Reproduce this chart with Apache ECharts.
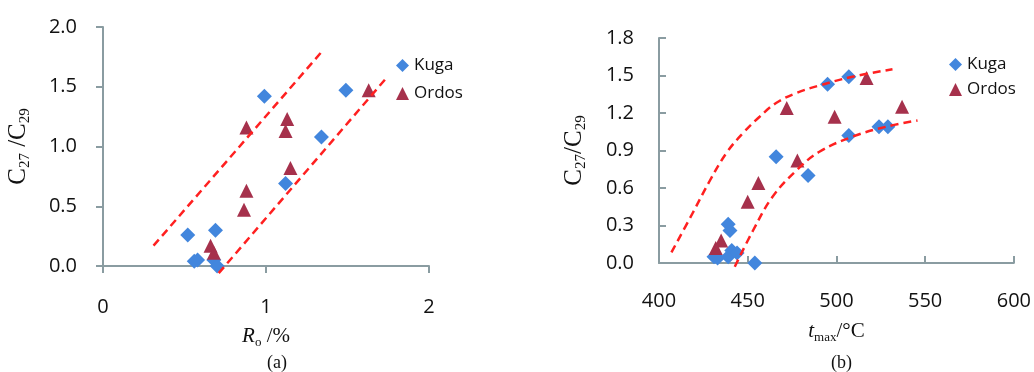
<!DOCTYPE html>
<html>
<head>
<meta charset="utf-8">
<script src="https://cdn.jsdelivr.net/npm/echarts@6/dist/echarts.min.js"></script>
<style>
  html, body { margin: 0; padding: 0; background: #fff; }
  #chart { width: 1034px; height: 372px; }
</style>
</head>
<body>
<div id="chart"></div>
<script>
  // (a) C27/C29 vs Ro
  const kugaRo = [[0.52, 0.26], [0.56, 0.04], [0.58, 0.05], [0.69, 0.30], [0.68, 0.05], [0.70, 0.0],
    [0.99, 1.42], [1.12, 0.69], [1.34, 1.08], [1.49, 1.47]]
  const ordosRo = [[0.66, 0.17], [0.68, 0.11], [0.865, 0.47], [0.88, 0.63], [0.88, 1.16],
    [1.12, 1.13], [1.13, 1.23], [1.15, 0.82], [1.63, 1.47]]
  const upperLineRo = [[0.31, 0.17], [1.34, 1.79]]
  const lowerLineRo = [[0.71, -0.06], [1.73, 1.56]]

  // (b) C27/C29 vs tmax
  const kugaT = [[431, 0.05], [433, 0.04], [439, 0.31], [440, 0.26], [439, 0.05], [441, 0.10], [444, 0.08],
    [454, 0.0], [466, 0.85], [484, 0.70], [495, 1.43], [507, 1.49], [507, 1.02], [524, 1.09], [529, 1.09]]
  const ordosT = [[432, 0.12], [435, 0.18], [450, 0.49], [456, 0.64], [472, 1.24], [478, 0.82],
    [499, 1.17], [517, 1.48], [537, 1.25]]
  const upperCurveT = [[407, 0.085], [419, 0.40], [428.7, 0.66], [438, 0.88], [447.4, 1.04], [456.7, 1.17],
    [466, 1.28], [477.4, 1.36], [490.4, 1.42], [509, 1.49], [531.6, 1.55]]
  const lowerCurveT = [[442.7, -0.03], [453, 0.26], [464, 0.53], [477.4, 0.74], [490.4, 0.89], [509, 1.01],
    [528, 1.09], [545.7, 1.14]]

  const seriesNames = ['Kuga', 'Ordos']
  const kugaColor = '#4286dd'
  const ordosColor = '#a6314c'
  const trendColor = '#ff2020'
  const axisColor = '#8a9ca1'
  const tickFont = 'Open Sans'
  const nameFont = 'Liberation Serif'

  const chart = echarts.init(document.getElementById('chart'))

  const nameRich = {
    b: { fontFamily: nameFont, fontSize: 21, color: '#111' },
    i: { fontFamily: nameFont, fontSize: 21, fontStyle: 'italic', color: '#111' },
    sub: { fontFamily: nameFont, fontSize: 13, color: '#111', padding: [12, 0, 0, 0] }
  }
  const yNameRich = {
    b: { fontFamily: nameFont, fontSize: 25, color: '#111' },
    sub: { fontFamily: nameFont, fontSize: 15, color: '#111', padding: [14, 0, 0, 0] }
  }

  function axisBase(inside) {
    return {
      axisLine: { show: true, onZero: false, lineStyle: { color: axisColor, width: 2 } },
      axisTick: { show: true, inside: inside, length: 7, lineStyle: { color: axisColor, width: 2 } },
      splitLine: { show: false },
      nameTextStyle: { rich: nameRich }
    }
  }

  function scatter(name, data, symbol, color, idx) {
    return {
      name: name, type: 'scatter', xAxisIndex: idx, yAxisIndex: idx,
      symbol: symbol, symbolSize: symbol === 'diamond' ? 15 : 14,
      itemStyle: { color: color, opacity: 1 }, data: data, z: 3
    }
  }

  function trend(data, idx, smooth) {
    return {
      type: 'line', xAxisIndex: idx, yAxisIndex: idx, data: data, smooth: smooth,
      symbol: 'none', clip: false, silent: true, z: 4,
      lineStyle: { color: trendColor, width: 2.5, type: [8, 5] }
    }
  }

  chart.setOption({
    animation: false,
    title: [
      { text: '(a)', left: 262, top: 349, textStyle: { fontFamily: nameFont, fontSize: 18, fontWeight: 'normal', color: '#111' } },
      { text: '(b)', left: 826, top: 349, textStyle: { fontFamily: nameFont, fontSize: 18, fontWeight: 'normal', color: '#111' } }
    ],
    legend: [
      {
        data: seriesNames, orient: 'vertical', left: 391, top: 52, itemGap: 11,
        itemWidth: 13, itemHeight: 13,
        textStyle: { fontFamily: tickFont, fontSize: 17, color: '#111' }
      },
      {
        data: seriesNames, orient: 'vertical', left: 944, top: 51, itemGap: 8,
        itemWidth: 13, itemHeight: 13,
        textStyle: { fontFamily: tickFont, fontSize: 17, color: '#111' }
      }
    ],
    grid: [
      { left: 103, top: 27, width: 326, height: 239 },
      { left: 659, top: 38, width: 356, height: 225 }
    ],
    xAxis: [
      Object.assign(axisBase(false), {
        gridIndex: 0, type: 'value', min: 0, max: 2, interval: 1,
        name: '{i|R}{sub|o}{b| /%}', nameLocation: 'middle', nameGap: 58,
        axisLabel: { fontFamily: tickFont, fontSize: 20, color: '#111', margin: 31 }
      }),
      Object.assign(axisBase(true), {
        gridIndex: 1, type: 'value', min: 400, max: 600, interval: 50,
        name: '{i|t}{sub|max}{b|/°C}', nameLocation: 'middle', nameGap: 56,
        axisLabel: { fontFamily: tickFont, fontSize: 20, color: '#111', margin: 28 }
      })
    ],
    yAxis: [
      Object.assign(axisBase(false), {
        gridIndex: 0, type: 'value', min: 0, max: 2, interval: 0.5,
        name: '{b|C}{sub|27}{b| /C}{sub|29}', nameLocation: 'middle', nameGap: 70, nameRotate: 90,
        nameTextStyle: { rich: yNameRich },
        axisLabel: { fontFamily: tickFont, fontSize: 20, color: '#111', margin: 26, formatter: v => v.toFixed(1) }
      }),
      Object.assign(axisBase(true), {
        gridIndex: 1, type: 'value', min: 0, max: 1.8, interval: 0.3,
        name: '{b|C}{sub|27}{b|/C}{sub|29}', nameLocation: 'middle', nameGap: 70, nameRotate: 90,
        nameTextStyle: { rich: yNameRich },
        axisLabel: { fontFamily: tickFont, fontSize: 20, color: '#111', margin: 25, formatter: v => v.toFixed(1) }
      })
    ],
    series: [
      scatter('Kuga', kugaRo, 'diamond', kugaColor, 0),
      scatter('Ordos', ordosRo, 'triangle', ordosColor, 0),
      trend(upperLineRo, 0, false),
      trend(lowerLineRo, 0, false),
      scatter('Kuga', kugaT, 'diamond', kugaColor, 1),
      scatter('Ordos', ordosT, 'triangle', ordosColor, 1),
      trend(upperCurveT, 1, 0.4),
      trend(lowerCurveT, 1, 0.4)
    ]
  })
</script>
</body>
</html>
